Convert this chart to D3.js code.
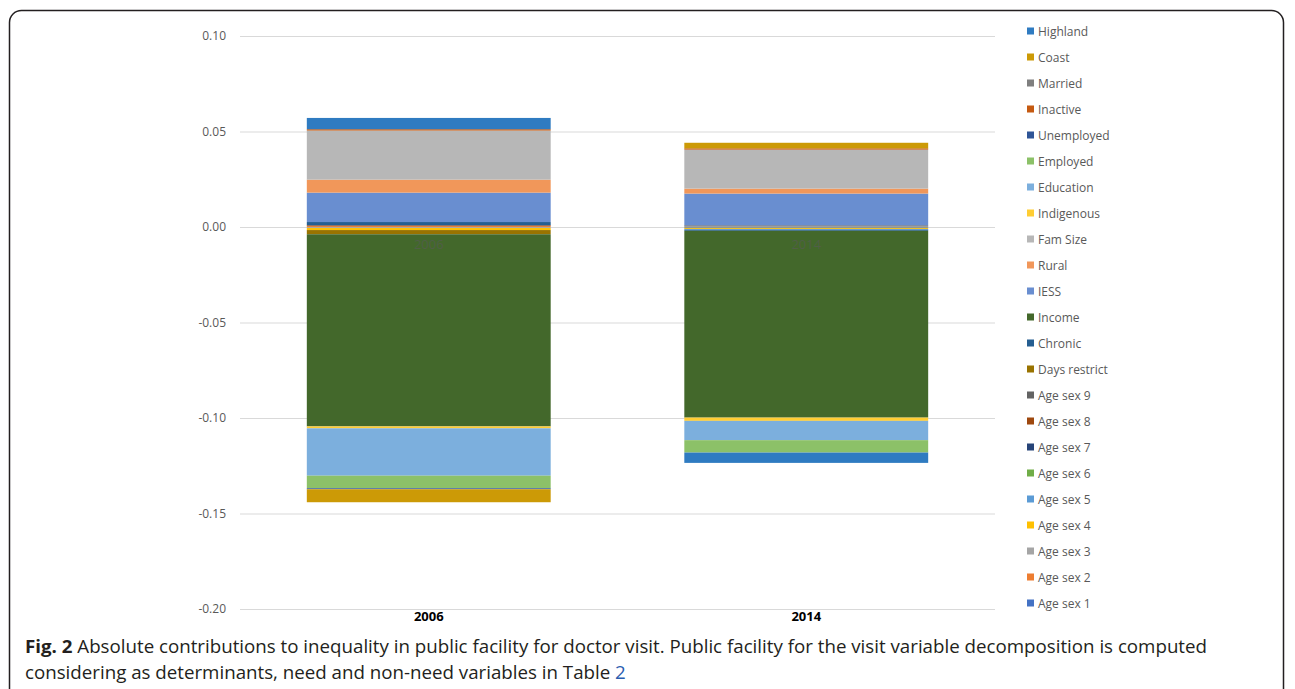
<!DOCTYPE html>
<html>
<head>
<meta charset="utf-8">
<script src="https://cdn.jsdelivr.net/npm/d3@7"></script>
<style>
  body { margin: 0; background: #fff; }
  svg { display: block; }
</style>
</head>
<body>
<div id="chart"></div>
<script>
var width = 1295;
var height = 689;

// categories
var years = [ "2006", "2014" ];

// series, in Excel plotting order (legend shows them reversed)
var seriesNames = [ "Age sex 1", "Age sex 2", "Age sex 3", "Age sex 4", "Age sex 5",
  "Age sex 6", "Age sex 7", "Age sex 8", "Age sex 9", "Days restrict", "Chronic",
  "Income", "IESS", "Rural", "Fam Size", "Indigenous", "Education", "Employed",
  "Unemployed", "Inactive", "Married", "Coast", "Highland" ];

var seriesColors = [ "#4472C4", "#ED7D31", "#A5A5A5", "#FFC000", "#5B9BD5",
  "#70AD47", "#264478", "#9E480E", "#636363", "#997300", "#255E91",
  "#43682B", "#698ED0", "#F1975A", "#B7B7B7", "#FFCD33", "#7CAFDD", "#8CC168",
  "#2F5597", "#C55A11", "#7F7F7F", "#CC9A06", "#2F7BC1" ];

var values2006 = [ 0, 0.0005, -0.0005, -0.0011, 0, 0, 0, 0.0004, 0, -0.0022, 0.0017,
  -0.1006, 0.0154, 0.0068, 0.0257, -0.0010, -0.0248, -0.0066, -0.0005, 0.0007, 0,
  -0.0068, 0.0059 ];

var values2014 = [ -0.0004, 0, 0.0003, -0.0006, -0.0004, 0, 0, 0, 0.0006, 0, -0.0006,
  -0.0978, 0.0166, 0.0026, 0.0204, -0.0017, -0.0101, -0.0065, 0, 0.0007, 0,
  0.0029, -0.0054 ];

var yTicks = [ 0.10, 0.05, 0.00, -0.05, -0.10, -0.15, -0.20 ];

var caption1 = "Absolute contributions to inequality in public facility for doctor visit. Public facility for the visit variable decomposition is computed";
var caption2 = "considering as determinants, need and non-need variables in Table ";


var svg = d3.select( "#chart" )
    .append( "svg" )
    .attr( "width", width )
    .attr( "height", height );

// frame
svg.append( "rect" )
    .attr( "x", 9.5 )
    .attr( "y", 10.5 )
    .attr( "width", 1274 )
    .attr( "height", 720 )
    .attr( "rx", 12 )
    .attr( "fill", "none" )
    .attr( "stroke", "#231F20" )
    .attr( "stroke-width", 1.5 );

var plotLeft = 240, plotRight = 995;

var x = d3.scaleBand()
    .domain( years )
    .range( [plotLeft, plotRight] );

var barWidth = x.bandwidth() * 0.646;

var y = d3.scaleLinear()
    .domain( [-0.20, 0.10] )
    .range( [609, 36] );

var fmt = function(d){ return d3.format( ".2f" )(d).replace( "\u2212", "-" ); };

// gridlines + tick labels
var yAxis = svg.append( "g" )
    .attr( "transform", "translate(" + plotLeft + ",0)" )
    .call( d3.axisLeft( y )
      .tickValues( yTicks )
      .tickSize( -(plotRight - plotLeft) )
      .tickPadding( 14 )
      .tickFormat( fmt ) );

yAxis.select( ".domain" ).remove();
yAxis.selectAll( ".tick line" ).attr( "stroke", "#D9D9D9" ).attr( "stroke-width", 1 );
yAxis.selectAll( ".tick text" )
    .attr( "fill", "#595959" )
    .style( "font-family", "'Open Sans', sans-serif" )
    .style( "font-size", "12px" );

// table rows for stacking
var rows = years.map( function(yr, i){
  var row = { year: yr };
  var vals = i === 0 ? values2006 : values2014;
  seriesNames.forEach( function(n, j){ row[n] = vals[j]; } );
  return row;
});

var stacked = d3.stack()
    .keys( seriesNames )
    .offset( d3.stackOffsetDiverging )( rows );

var layers = svg.append( "g" )
    .selectAll( "g" )
    .data( stacked )
    .enter()
    .append( "g" )
    .attr( "fill", function(d, i){ return seriesColors[i]; } );

layers.selectAll( "rect" )
    .data( function(d){ return d; } )
    .enter()
    .append( "rect" )
    .attr( "x", function(d){ return x( d.data.year ) + (x.bandwidth() - barWidth) / 2; } )
    .attr( "width", barWidth )
    .attr( "y", function(d){ return y( Math.max( d[0], d[1] ) ); } )
    .attr( "height", function(d){ return Math.abs( y( d[0] ) - y( d[1] ) ); } );

// faint data labels inside bars
svg.append( "g" )
    .selectAll( "text" )
    .data( years )
    .enter()
    .append( "text" )
    .attr( "x", function(d){ return x( d ) + x.bandwidth() / 2; } )
    .attr( "y", y( 0 ) + 22 )
    .attr( "text-anchor", "middle" )
    .attr( "fill", "#595959" )
    .attr( "fill-opacity", 0.6 )
    .style( "font-family", "'Open Sans', sans-serif" )
    .style( "font-size", "13px" )
    .text( function(d){ return d; } );

// category labels
svg.append( "g" )
    .selectAll( "text" )
    .data( years )
    .enter()
    .append( "text" )
    .attr( "x", function(d){ return x( d ) + x.bandwidth() / 2; } )
    .attr( "y", 621 )
    .attr( "text-anchor", "middle" )
    .attr( "fill", "#000" )
    .style( "font-family", "'Open Sans', sans-serif" )
    .style( "font-size", "13px" )
    .style( "font-weight", "bold" )
    .text( function(d){ return d; } );

// legend (reverse order, Highland on top)
var legendItems = seriesNames.map( function(n, i){ return { name: n, color: seriesColors[i] }; } ).reverse();

var legend = svg.append( "g" )
    .selectAll( "g" )
    .data( legendItems )
    .enter()
    .append( "g" )
    .attr( "transform", function(d, i){ return "translate(1027," + (31 + i * 26) + ")"; } );

legend.append( "rect" )
    .attr( "x", 0 )
    .attr( "y", -3.5 )
    .attr( "width", 7 )
    .attr( "height", 7 )
    .attr( "fill", function(d){ return d.color; } );

legend.append( "text" )
    .attr( "x", 11 )
    .attr( "y", 4.5 )
    .attr( "fill", "#595959" )
    .style( "font-family", "'Open Sans', sans-serif" )
    .style( "font-size", "12px" )
    .text( function(d){ return d.name; } );

// caption
var cap = svg.append( "g" )
    .style( "font-family", "'Open Sans', sans-serif" )
    .attr( "fill", "#231F20" );

var line1 = cap.append( "text" )
    .attr( "x", 25 )
    .attr( "y", 653 )
    .style( "font-size", "18px" );
line1.append( "tspan" ).style( "font-weight", "bold" ).text( "Fig. 2" );
line1.append( "tspan" ).text( " " + caption1 );

var line2 = cap.append( "text" )
    .attr( "x", 25 )
    .attr( "y", 679 )
    .style( "font-size", "18px" );
line2.append( "tspan" ).text( caption2 );
line2.append( "tspan" ).attr( "fill", "#2A5DB0" ).text( "2" );

// squeeze caption to the original line width
var w1 = line1.node().getComputedTextLength();
var s = 1182 / w1;
line1.attr( "textLength", 1182 ).attr( "lengthAdjust", "spacingAndGlyphs" );
var w2 = line2.node().getComputedTextLength();
line2.attr( "textLength", w2 * s ).attr( "lengthAdjust", "spacingAndGlyphs" );
</script>
</body>
</html>
